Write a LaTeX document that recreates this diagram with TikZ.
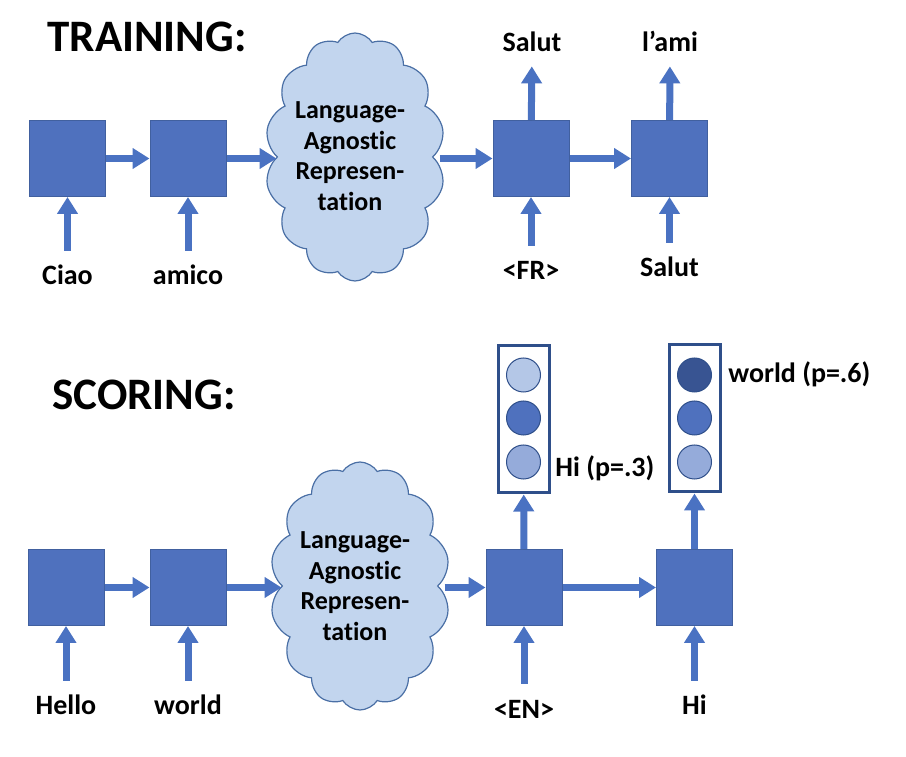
\documentclass[tikz,border=0pt]{standalone}
\usepackage{fontspec}
\setmainfont{Carlito}[Ligatures=NoCommon]
\usetikzlibrary{arrows.meta,shapes.symbols}
\definecolor{boxblue}{HTML}{4F71BE}
\definecolor{boxedge}{HTML}{41609F}
\definecolor{arrowblue}{HTML}{4A72C2}
\definecolor{cloudfill}{HTML}{C2D5EE}
\definecolor{cloudedge}{HTML}{4A6FA5}
\definecolor{coledge}{HTML}{2F4F8A}
\definecolor{dotdark}{HTML}{385492}
\definecolor{dotmid}{HTML}{4F71BE}
\definecolor{dotpale}{HTML}{95ABDA}
\definecolor{dotlight}{HTML}{B4C7E7}
\tikzset{
  cell/.style={rectangle,fill=boxblue,draw=boxedge,line width=0.5pt,minimum size=38pt,inner sep=0pt},
  flow/.style={draw=arrowblue,line width=3.5pt,-{Triangle[width=10pt,length=8.5pt]}},
  word/.style={font=\fontsize{14}{16}\selectfont\bfseries,inner sep=0pt,text height=10pt,text depth=3pt},
  inword/.style={font=\fontsize{13}{15.3}\selectfont\bfseries,inner sep=0pt,align=center},
  heading/.style={font=\fontsize{22.5}{27}\selectfont\bfseries,inner sep=0pt},
  thought/.style={cloud,cloud puffs=14,cloud puff arc=115,cloud ignores aspect,fill=cloudfill,draw=cloudedge,
    line width=0.6pt,minimum width=90pt,minimum height=124pt,inner sep=0pt},
  column/.style={rectangle,draw=coledge,line width=1.5pt,fill=white,minimum width=25.5pt,minimum height=73.5pt,inner sep=0pt},
  dot/.style={circle,draw=coledge,line width=0.5pt,minimum size=17pt,inner sep=0pt}
}
\begin{document}
\begin{tikzpicture}[x=0.5pt,y=0.5pt]
\useasboundingbox (0,0) rectangle (906,756);
% training
\node[heading,anchor=base west] (train) at (47,704) {TRAINING:};
\node[cell] (tenc1) at (67.5,597.5) {};
\node[cell] (tenc2) at (188,597.5) {};
\node[thought] (tlar) at (355,599) {};
\node[inword] (tlartext) at (350,600) {Language-\\Agnostic\\Represen-\\tation};
\node[cell] (tdec1) at (531,597.5) {};
\node[cell] (tdec2) at (669.5,597.5) {};
\node[word,anchor=base] (tciao) at (67.5,471) {Ciao};
\node[word,anchor=base] (tamico) at (188,471) {amico};
\node[word,anchor=base] (tfr) at (531,476) {<FR>};
\node[word,anchor=base] (tsalutin) at (669.5,479) {Salut};
\node[word,anchor=base] (tsalut) at (532,704) {Salut};
\node[word,anchor=base] (tami) at (670,704) {l’ami};
\draw[flow] (tenc1) -- (tenc2);
\draw[flow] (tenc2.east) -- (tenc2.east -| tlar.west);
\draw[flow,shorten <=3pt] (tlar.east |- tdec1.west) -- (tdec1.west);
\draw[flow] (tdec1) -- (tdec2);
\foreach \a/\b in {tciao/tenc1,tamico/tenc2,tfr/tdec1,tsalutin/tdec2}{
  \draw[flow,shorten <=7pt] (\a) -- (\b);
}
\draw[flow,shorten >=4pt] (tdec1) -- (tsalut);
\draw[flow,shorten >=4pt] (tdec2) -- (tami);
% scoring
\node[heading,anchor=base west] (score) at (52,346) {SCORING:};
\node[cell] (senc1) at (66,168.5) {};
\node[cell] (senc2) at (188,168.5) {};
\node[thought] (slar) at (360,170) {};
\node[inword] (slartext) at (355,170) {Language-\\Agnostic\\Represen-\\tation};
\node[cell] (sdec1) at (524,168.5) {};
\node[cell] (sdec2) at (694.5,168.5) {};
\node[word,anchor=base] (shello) at (66,41) {Hello};
\node[word,anchor=base] (sworld) at (188,41) {world};
\node[word,anchor=base] (sen) at (524,38) {<EN>};
\node[word,anchor=base] (shi) at (694.5,41) {Hi};
\node[column] (sout1) at (523.5,336.5) {};
\node[column] (sout2) at (694.5,337.5) {};
\foreach \y/\c/\k in {381/dotlight/1,338/dotmid/2,294/dotpale/3}{
  \node[dot,fill=\c] (sa\k) at (523.5,\y) {};
}
\foreach \y/\c/\k in {381/dotdark/1,338/dotmid/2,294/dotpale/3}{
  \node[dot,fill=\c] (sb\k) at (694.5,\y) {};
}
\node[word,anchor=base west] (sphi) at (555,279) {Hi (p=.3)};
\node[word,anchor=base west] (spworld) at (728,373) {world (p=.6)};
\draw[flow] (senc1) -- (senc2);
\draw[flow] (senc2.east) -- (senc2.east -| slar.west);
\draw[flow,shorten <=3pt] (slar.east |- sdec1.west) -- (sdec1.west);
\draw[flow] (sdec1) -- (sdec2);
\foreach \a/\b in {shello/senc1,sworld/senc2,sen/sdec1,shi/sdec2}{
  \draw[flow,shorten <=7pt] (\a) -- (\b);
}
\draw[flow] (sdec1) -- (sout1);
\draw[flow] (sdec2) -- (sout2);
\end{tikzpicture}
\end{document}
